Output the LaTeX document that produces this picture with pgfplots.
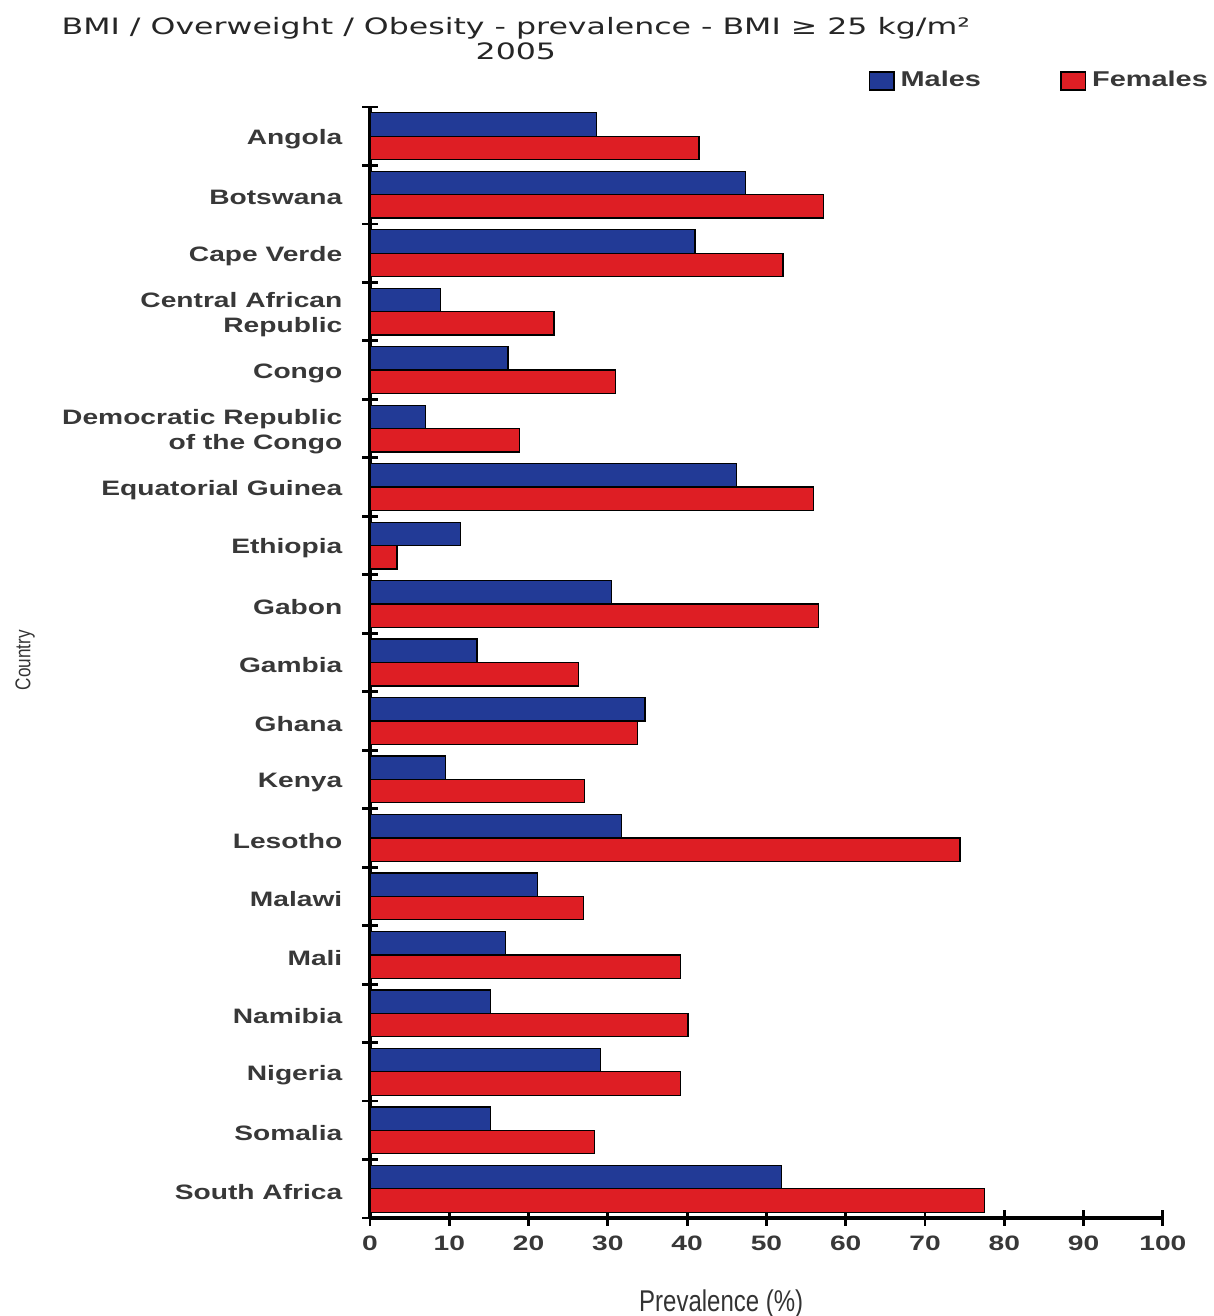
\documentclass[border=0pt]{standalone}
\usepackage{fontspec}
\setmainfont{Liberation Sans}
\newfontfamily\labelfont[FakeStretch=1.35]{Liberation Sans Bold}
\newfontfamily\titlefont[FakeStretch=1.4]{DejaVu Sans}
\newfontfamily\narrowfont[FakeStretch=0.8]{Liberation Sans}
\usepackage{pgfplots}
\usepackage{pgfplotstable}
\pgfplotsset{compat=1.18}

\definecolor{maleblue}{RGB}{34,58,150}
\definecolor{femalered}{RGB}{222,30,36}

% Prevalence of BMI >= 25 kg/m^2 (%), 2005; pos 18 = top row, 0 = bottom row
\pgfplotstableread{
pos males females
18 28.6 41.5
17 47.4 57.2
16 41.0 52.1
15  8.9 23.2
14 17.4 31.0
13  7.0 18.9
12 46.2 55.9
11 11.4  3.4
10 30.5 56.6
 9 13.5 26.3
 8 34.7 33.7
 7  9.5 27.1
 6 31.7 74.4
 5 21.1 26.9
 4 17.1 39.2
 3 15.2 40.1
 2 29.1 39.2
 1 15.2 28.3
 0 51.9 77.5
}\prevtable

\begin{document}
\begin{tikzpicture}
\begin{axis}[
  scale only axis,
  width=277.55pt, height=388.9pt,
  clip=false,
  xbar,
  xmin=0, xmax=100,
  ymin=-0.5, ymax=18.5,
  axis x line=bottom, axis y line=left,
  axis line style={-, line width=1.1pt, black},
  xtick={0,10,...,100},
  ytick={0,...,18},
  minor ytick={-0.5,0.5,...,18.5},
  yticklabels={South Africa,Somalia,Nigeria,Namibia,Mali,Malawi,Lesotho,Kenya,Ghana,Gambia,Gabon,Ethiopia,Equatorial Guinea,{Democratic Republic\\of the Congo},Congo,{Central African\\Republic},Cape Verde,Botswana,Angola},
  tick align=center,
  major tick length=5.5pt,
  minor tick length=5.5pt,
  tick style={line width=1pt, black},
  major y tick style={draw=none},
  /pgf/number format/assume math mode=true,
  xticklabel style={font=\labelfont\fontsize{7.3}{9}\selectfont, text=black!78},
  yticklabel style={font=\labelfont\fontsize{7.3}{8.6}\selectfont, text=black!78, align=right,
    xshift=-3.4pt, yshift=-1pt},
  xlabel={Prevalence (\%)},
  xlabel style={font=\narrowfont\fontsize{10.5}{12}\selectfont, text=black!80,
    at={(rel axis cs:0.443,-0.0775)}, anchor=center},
  ylabel={Country},
  ylabel style={font=\narrowfont\fontsize{7.5}{9}\selectfont, text=black!80,
    at={(rel axis cs:-0.435,0.502)}, anchor=center, rotate=0},
  title={BMI / Overweight / Obesity - prevalence - BMI ≥ 25 kg/m²\\2005},
  title style={font=\titlefont\fontsize{7.9}{8.8}\selectfont, text=black!85, align=center,
    at={(rel axis cs:0.184,1.046)}, anchor=center},
  legend columns=2,
  legend style={draw=none, fill=none, at={(rel axis cs:1.0755,1.0235)}, anchor=east,
    font=\labelfont\fontsize{7.5}{9}\selectfont, text=black!78,
    /tikz/every even column/.append style={column sep=25.8pt}},
  legend image code/.code={\draw[#1, line width=0.5pt] (0pt,-3.2pt) rectangle (8.6pt,3.1pt);},
  every axis plot/.append style={draw=black, line width=0.45pt},
]
\addplot[fill=maleblue, bar width=0.4, bar shift=0.2] table[x=males, y=pos] {\prevtable};
\addlegendentry{Males}
\addplot[fill=femalered, bar width=0.4, bar shift=-0.2] table[x=females, y=pos] {\prevtable};
\addlegendentry{Females}
\coordinate (pageSW) at (rel axis cs:-0.4666,-0.0882);
\coordinate (pageNE) at (rel axis cs:1.0643,1.0963);
\end{axis}
\pgfresetboundingbox
\path (pageSW) rectangle (pageNE);
\end{tikzpicture}
\end{document}
